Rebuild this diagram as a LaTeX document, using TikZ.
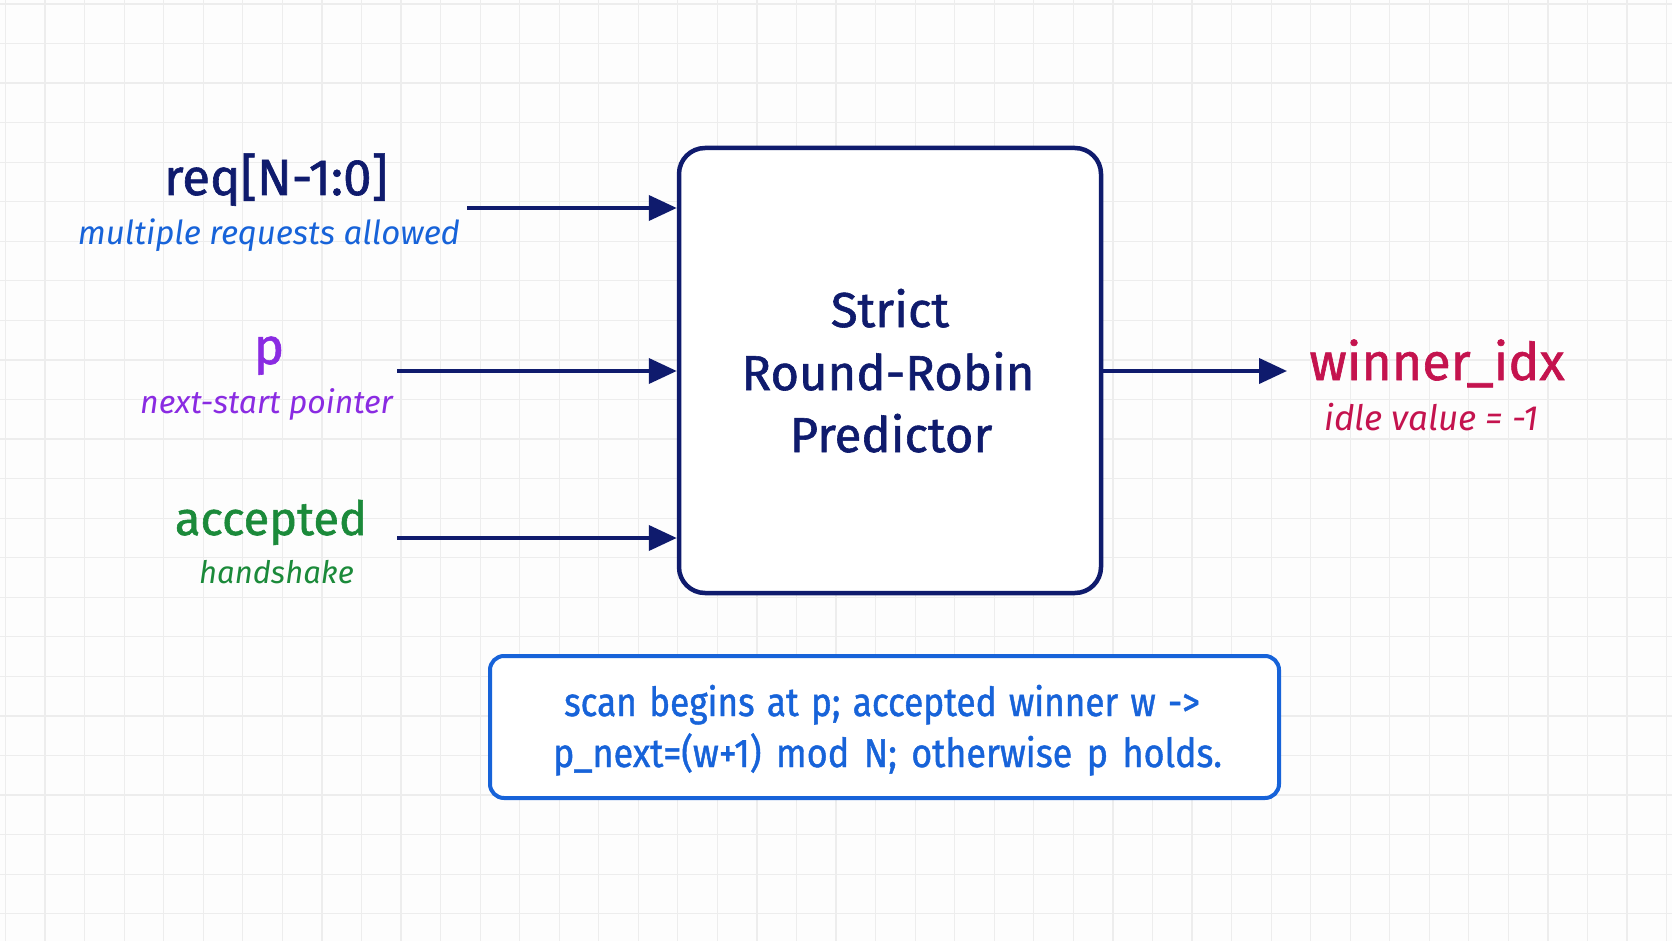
\documentclass[tikz,border=0pt]{standalone}
\usepackage{fontspec}
\setmainfont{Fira Sans}
\newfontfamily\medfont{Fira Sans}[FakeBold=1.2]
\usetikzlibrary{arrows.meta}
\definecolor{navy}{HTML}{0F1B6D}
\definecolor{bluei}{HTML}{1763D9}
\definecolor{purp}{HTML}{8A2BE2}
\definecolor{grn}{HTML}{1B8A3A}
\definecolor{crim}{HTML}{C4134E}
\definecolor{gridc}{HTML}{EDEDED}
\definecolor{bgc}{HTML}{FDFDFD}
\tikzset{
  gridline/.style={draw=gridc, line width=1.2pt},
  arr/.style={draw=navy, line width=4pt, -{Triangle[length=28pt,width=25pt]}},
  lbl/.style={inner sep=0pt, anchor=base},
  sig/.style={lbl, font=\medfont\fontsize{51}{60}\selectfont},
  sub/.style={lbl, font=\itshape\fontsize{33}{40}\selectfont},
  ttl/.style={lbl, text=navy, font=\medfont\fontsize{49}{60}\selectfont},
  notetxt/.style={lbl, text=bluei, font=\medfont\fontsize{40}{48}\selectfont},
}
\begin{document}
\begin{tikzpicture}[x=1pt,y=-1pt]
\fill[bgc] (0,0) rectangle (1672,941);
\useasboundingbox (0,0) rectangle (1672,941);
\foreach \i in {0,...,42} \draw[gridline] ({5.5+39.55*\i},0) -- ({5.5+39.55*\i},941);
\foreach \j in {0,...,23} \draw[gridline] (0,{4+39.55*\j}) -- (1672,{4+39.55*\j});

% main block
\node[draw=navy, line width=4.5pt, rounded corners=26pt, fill=white,
      minimum width=422pt, minimum height=445pt, inner sep=0pt] (box) at (890,370.5) {};
\node[ttl] (t1) at (890,327) {Strict};
\node[ttl] (t2) at (888,390) {Round-Robin};
\node[ttl] (t3) at (891,452) {Predictor};

% inputs
\node[sig, text=navy] (req) at (276,195) {req[N-1:0]};
\node[sub, text=bluei] (reqsub) at (269,244) {multiple requests allowed};
\node[sig, text=purp] (p) at (269,364) {p};
\node[sub, text=purp, font=\itshape\fontsize{32}{40}\selectfont] (psub) at (266.5,413) {next-start pointer};
\node[sig, text=grn, font=\medfont\fontsize{47}{56}\selectfont] (acc) at (271,535) {accepted};
\node[sub, text=grn, font=\itshape\fontsize{31}{40}\selectfont] (accsub) at (276.5,583) {handshake};

% output
\node[sig, text=crim, font=\medfont\fontsize{52}{60}\selectfont] (win) at (1437,380) {winner\_idx};
\node[sub, text=crim, font=\itshape\fontsize{35}{42}\selectfont] (winsub) at (1431.5,430) {idle value = -1};

% connectors
\coordinate (reqs) at (467,208);
\coordinate (ps) at (397,371);
\coordinate (accs) at (397,538);
\coordinate (oute) at (1287,371);
\draw[arr] (reqs) -- (reqs -| box.west);
\draw[arr] (ps) -- (ps -| box.west);
\draw[arr] (accs) -- (accs -| box.west);
\draw[arr] (box.east |- oute) -- (oute);

% note
\node[draw=bluei, line width=4pt, rounded corners=14pt, fill=white,
      minimum width=789pt, minimum height=142pt, inner sep=0pt] (note) at (884.5,727) {};
\node[notetxt] (n1) at (882,716) {\scalebox{0.88}[1]{\spaceskip=14pt plus 2pt scan begins at p; accepted winner w ->}};
\node[notetxt] (n2) at (887.5,767) {\scalebox{0.9}[1]{\spaceskip=16pt plus 2pt p\_next=(w+1) mod N; otherwise p holds.}};
\end{tikzpicture}
\end{document}
